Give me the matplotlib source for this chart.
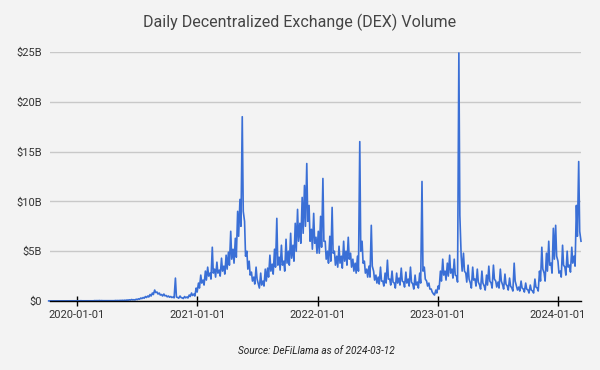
import matplotlib
matplotlib.use('Agg')
import matplotlib.pyplot as plt
import numpy as np
import pandas as pd
from matplotlib.ticker import FuncFormatter

# Weekly DEX volume readings (billions USD)
vol_2019 = [0.01, 0.01, 0.02, 0.01, 0.02, 0.01, 0.02, 0.02, 0.01, 0.02, 0.02, 0.01, 0.02]
vol_2020 = [0.02, 0.03, 0.02, 0.03,
            0.03, 0.02, 0.03, 0.04,
            0.04, 0.05, 0.04, 0.03, 0.04,
            0.03, 0.04, 0.04, 0.05,
            0.05, 0.06, 0.07, 0.08,
            0.10, 0.12, 0.15, 0.13, 0.18,
            0.22, 0.30, 0.35, 0.45,
            0.50, 0.65, 0.80, 1.10, 0.90,
            0.80, 0.65, 0.70, 0.55,
            0.50, 0.45, 0.40, 2.30,
            0.35, 0.50, 0.30, 0.45, 0.40,
            0.60, 0.80, 0.70, 1.30]
vol_2021 = [1.8, 2.6, 2.1, 3.0,
            3.4, 2.8, 5.4, 3.2,
            3.9, 3.1, 4.3, 3.5, 4.6,
            4.9, 7.0, 5.2, 6.3,
            9.0, 10.2, 18.5, 8.0, 5.0,
            4.0, 2.9, 2.4, 3.4,
            1.7, 2.8, 2.0, 3.2,
            3.3, 4.6, 3.7, 5.2, 8.3,
            4.4, 5.6, 4.0, 6.2,
            5.0, 6.8, 5.6, 7.8,
            9.2, 7.8, 10.4, 11.6, 13.8,
            9.6, 7.2, 8.8, 6.4]
vol_2022 = [7.0, 8.5, 12.3, 6.0, 5.0,
            6.5, 9.4, 5.0, 4.5,
            5.5, 4.5, 6.0, 5.0,
            6.4, 4.8, 4.2, 3.8,
            4.5, 16.0, 6.0, 4.0, 3.2,
            3.5, 7.6, 3.0, 2.6,
            2.4, 3.4, 2.0, 2.8,
            4.1, 2.2, 3.0, 1.8, 2.8,
            2.3, 3.3, 1.9, 2.9,
            2.2, 3.4, 1.7, 2.6, 1.9,
            2.8, 12.0, 3.4, 2.0,
            1.8, 1.2, 0.7, 1.1]
vol_2023 = [1.5, 3.0, 4.2, 3.0, 3.8,
            4.6, 3.2, 4.2, 2.5,
            24.9, 4.5, 4.8, 2.8,
            3.6, 1.8, 3.4, 2.2,
            3.2, 1.6, 3.0, 1.5, 2.6,
            3.5, 1.8, 3.6, 2.0,
            1.9, 3.2, 1.6, 2.7, 1.5,
            2.3, 1.3, 3.8, 1.5,
            1.4, 2.0, 1.2, 1.8,
            1.1, 1.6, 1.0, 2.2, 1.3,
            3.0, 5.4, 2.8, 4.8,
            6.0, 3.8, 7.3, 7.6]
vol_2024 = [4.0, 3.0, 5.6, 3.4, 5.0, 3.6, 5.4, 4.5, 9.6, 14.0, 6.0]

# Mid-week readings (lower edge of the daily band), billions USD
mid_2019 = [0.01, 0.01, 0.01, 0.01, 0.01, 0.01, 0.01, 0.01, 0.01, 0.01, 0.01, 0.01, 0.01]
mid_2020 = [0.02, 0.02, 0.02, 0.02,
            0.02, 0.02, 0.02, 0.03,
            0.03, 0.03, 0.03, 0.02, 0.03,
            0.03, 0.03, 0.03, 0.04,
            0.04, 0.05, 0.05, 0.06,
            0.08, 0.09, 0.11, 0.10, 0.14,
            0.18, 0.24, 0.28, 0.35,
            0.40, 0.50, 0.65, 0.85, 0.70,
            0.60, 0.50, 0.52, 0.42,
            0.38, 0.35, 0.32, 0.40,
            0.28, 0.35, 0.25, 0.32, 0.30,
            0.45, 0.55, 0.50, 0.90]
mid_2021 = [1.3, 1.8, 1.6, 2.1,
            2.5, 2.2, 2.8, 2.4,
            2.8, 2.5, 3.0, 2.7, 3.2,
            3.6, 4.2, 3.8, 4.4,
            6.5, 7.5, 9.0, 4.5, 3.2,
            2.6, 2.0, 1.7, 2.2,
            1.3, 1.6, 1.5, 2.0,
            2.4, 3.0, 2.7, 3.4, 3.6,
            3.1, 3.6, 3.0, 3.8,
            3.6, 4.3, 4.0, 5.0,
            6.0, 5.8, 6.8, 7.5, 8.0,
            6.0, 5.2, 5.8, 4.8]
mid_2022 = [4.8, 5.4, 6.0, 4.2, 3.8,
            4.0, 4.8, 3.6, 3.4,
            3.8, 3.3, 4.0, 3.6,
            4.2, 3.4, 3.0, 2.8,
            3.0, 5.0, 3.8, 2.8, 2.4,
            2.4, 3.5, 2.1, 1.8,
            1.7, 2.0, 1.5, 1.8,
            2.2, 1.6, 1.9, 1.3, 1.8,
            1.6, 2.0, 1.4, 1.8,
            1.5, 1.9, 1.2, 1.6, 1.3,
            1.8, 3.0, 2.2, 1.5,
            1.2, 0.9, 0.6, 0.8]
mid_2023 = [1.2, 2.0, 2.6, 2.1, 2.5,
            2.8, 2.3, 2.6, 1.9,
            8.6, 3.0, 3.0, 1.9,
            2.2, 1.3, 2.1, 1.5,
            1.9, 1.2, 1.8, 1.1, 1.6,
            2.0, 1.3, 2.2, 1.4,
            1.3, 2.0, 1.2, 1.7, 1.1,
            1.5, 1.0, 2.0, 1.1,
            1.0, 1.3, 0.9, 1.2,
            0.8, 1.1, 0.8, 1.4, 1.0,
            2.0, 3.2, 2.0, 3.0,
            3.6, 2.8, 4.2, 4.5]
mid_2024 = [2.8, 2.4, 3.6, 2.6, 3.4, 2.9, 3.8, 3.5, 6.5, 7.0]

weekly = vol_2019 + vol_2020 + vol_2021 + vol_2022 + vol_2023 + vol_2024
midweek = mid_2019 + mid_2020 + mid_2021 + mid_2022 + mid_2023 + mid_2024

week_dates = pd.date_range('2019-10-07', periods=len(weekly), freq='7D')
mid_dates = week_dates[:len(midweek)] + pd.Timedelta(days=3)

series = pd.concat([pd.Series(weekly, index=week_dates),
                    pd.Series(midweek, index=mid_dates)]).sort_index()

tick_labels = ['2020-01-01', '2021-01-01', '2022-01-01', '2023-01-01', '2024-01-01']
y_ticks = [0, 5, 10, 15, 20, 25]

title = 'Daily Decentralized Exchange (DEX) Volume'
source = 'Source: DeFiLlama as of 2024-03-12'

plt.rcParams['font.family'] = ['Roboto', 'DejaVu Sans']

bg = '#f3f3f3'
fig = plt.figure(figsize=(6, 3.7), dpi=100, facecolor=bg)
ax = fig.add_axes([50/600, 1 - 301/370, 531/600, 249/370])
ax.set_facecolor(bg)

ax.plot(series.index, series.values, color='#3a6fd6', lw=1.2, clip_on=False, zorder=3)

ax.set_ylim(0, 25)
ax.set_yticks(y_ticks)
ax.yaxis.set_major_formatter(FuncFormatter(lambda v, p: '$0' if v == 0 else f'${int(v)}B'))
ax.grid(axis='y', color='#c8c8c8', lw=1)
ax.set_axisbelow(True)

for s in ['top', 'right', 'left']:
    ax.spines[s].set_visible(False)
ax.spines['bottom'].set_color('black')
ax.spines['bottom'].set_linewidth(1)
ax.spines['bottom'].set_zorder(4)

ax.set_xticks(pd.to_datetime(tick_labels))
ax.set_xticklabels(tick_labels)
ax.set_xlim(pd.Timestamp('2019-10-11'), pd.Timestamp('2024-03-11'))

ax.tick_params(axis='y', length=0, pad=6, labelsize=8, labelcolor='#333333')
ax.tick_params(axis='x', direction='inout', length=7, width=1, color='black',
               labelsize=8, pad=3, labelcolor='#333333')

fig.text(0.5, 1 - 22/370, title, ha='center', va='center', fontsize=11.5, color='#444444')
fig.text(316/600, 1 - 351/370, source, ha='center', va='center', fontsize=7.2,
         style='italic', color='#222222')

fig.savefig('out.png', dpi=100, facecolor=bg)
